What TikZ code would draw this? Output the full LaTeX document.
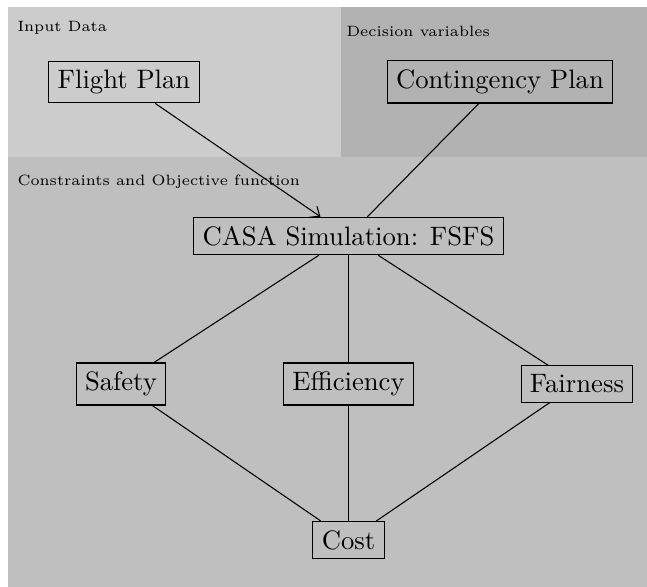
\documentclass[tikz,border=0pt]{standalone}
\usetikzlibrary{arrows.meta}
\begin{document}
\begin{tikzpicture}[x=0.375pt,y=-0.375pt,
  box/.style={draw=black,fill=black!25,inner sep=0.3333em,font=\normalsize},
  region/.style={font=\fontsize{5.6}{6.5}\selectfont,anchor=west,inner sep=0pt},
  link/.style={draw=black,line width=0.4pt}]
\useasboundingbox (0,0) rectangle (647,587);
\fill[black!20] (8,7) rectangle (341,157);
\fill[black!30] (341,7) rectangle (647,157);
\fill[black!25] (8,157) rectangle (647,587);
\node[region] (lin) at (17,28) {Input Data};
\node[region] (ldv) at (346,31) {Decision variables};
\node[region] (lco) at (17,182) {Constraints and Objective function};
\node[box,fill=black!20] (fp) at (124,82) {Flight Plan};
\node[box,fill=black!30] (cp) at (500,82) {Contingency Plan};
\node[box] (casa) at (348.5,236) {CASA Simulation: FSFS};
\node[box] (saf) at (121,384) {Safety};
\node[box] (eff) at (348.5,384) {Efficiency};
\node[box] (fair) at (577,384) {Fairness};
\node[box] (cost) at (348.5,540) {Cost};
\draw[link,-{Straight Barb[length=3pt,width=5pt]}] (fp) -- (casa);
\draw[link] (cp) -- (casa);
\draw[link] (casa) -- (saf);
\draw[link] (casa) -- (eff);
\draw[link] (casa) -- (fair);
\draw[link] (saf) -- (cost);
\draw[link] (eff) -- (cost);
\draw[link] (fair) -- (cost);
\end{tikzpicture}
\end{document}
